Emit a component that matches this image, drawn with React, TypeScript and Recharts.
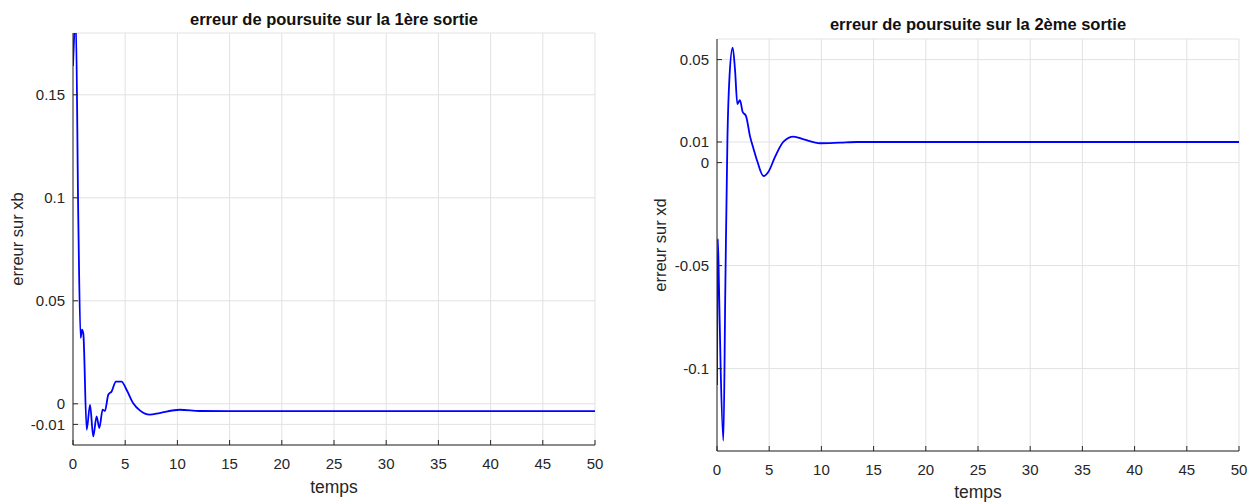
import React from "react";
import {
  LineChart,
  Line,
  XAxis,
  YAxis,
  CartesianGrid,
} from "recharts";

// temps values (s)
const tempsXb = [0, 0.15, 0.26, 0.51, 0.73, 0.86, 0.99, 1.31, 1.63, 1.94, 2.26, 2.52, 2.84, 3.06, 3.38, 3.7, 4.11, 4.65, 5.13, 5.77, 6.4, 7.36, 8.31, 10.23, 12.14, 15, 20, 30, 40, 50];
const erreurXb = [0.164, 0.182, 0.188, 0.089, 0.032, 0.036, 0.034, -0.0126, -0.0005, -0.0158, -0.0061, -0.0118, -0.0029, -0.0035, 0.0044, 0.006, 0.0108, 0.0108, 0.0068, 0.0003, -0.0032, -0.0053, -0.0045, -0.0029, -0.0035, -0.0036, -0.0036, -0.0036, -0.0036, -0.0036];

const tempsXd = [0, 0.08, 0.19, 0.35, 0.61, 0.8, 1.0, 1.2, 1.5, 1.73, 1.95, 2.2, 2.45, 2.78, 3.17, 3.49, 3.87, 4.45, 4.93, 5.57, 6.37, 7.33, 8.3, 9.88, 11.8, 13.4, 20, 30, 40, 50];
const erreurXd = [-0.108, -0.037, -0.06, -0.1, -0.135, -0.06, 0.012, 0.042, 0.0558, 0.0448, 0.0284, 0.0303, 0.0247, 0.0226, 0.0126, 0.0069, 0.0005, -0.0065, -0.0044, 0.0029, 0.0102, 0.0126, 0.0113, 0.0094, 0.0097, 0.01, 0.01, 0.01, 0.01, 0.01];

const xTicks = [0, 5, 10, 15, 20, 25, 30, 35, 40, 45, 50];
const yTicksXb = [-0.01, 0, 0.05, 0.1, 0.15];
const yTicksXd = [-0.1, -0.05, 0, 0.01, 0.05];

const dataXb = tempsXb.map((t, i) => ({ t, v: erreurXb[i] }));
const dataXd = tempsXd.map((t, i) => ({ t, v: erreurXd[i] }));

const AXIS = "#262626";
const FONT = "'Liberation Sans', Arial, sans-serif";
const tickStyle = { fill: AXIS, fontSize: 15, fontFamily: FONT };

const fmt = (v: number) => String(Number(v.toFixed(3)));

function Panel({
  data,
  yDomain,
  yTicks,
  margin,
  width,
}: {
  data: { t: number; v: number }[];
  yDomain: [number, number];
  yTicks: number[];
  margin: { top: number; right: number; bottom: number; left: number };
  width: number;
}) {
  return (
    <LineChart width={width} height={503} data={data} margin={margin}>
      <CartesianGrid stroke="#e2e2e2" strokeWidth={1} />
      <XAxis
        type="number"
        dataKey="t"
        domain={[0, 50]}
        ticks={xTicks}
        allowDataOverflow
        height={30}
        tickSize={-5}
        tickMargin={18}
        tick={tickStyle}
        stroke={AXIS}
        interval={0}
      />
      <XAxis
        xAxisId="top"
        orientation="top"
        type="number"
        dataKey="t"
        domain={[0, 50]}
        ticks={xTicks}
        allowDataOverflow
        height={0}
        tickSize={-5}
        tickFormatter={() => ""}
        stroke={AXIS}
        interval={0}
      />
      <YAxis
        type="number"
        domain={yDomain}
        ticks={yTicks}
        allowDataOverflow
        width={60}
        tickSize={-5}
        tickMargin={13}
        tick={tickStyle}
        tickFormatter={fmt}
        stroke={AXIS}
        interval={0}
      />
      <YAxis
        yAxisId="right"
        orientation="right"
        type="number"
        domain={yDomain}
        ticks={yTicks}
        allowDataOverflow
        width={0}
        tickSize={-5}
        tickFormatter={() => ""}
        stroke={AXIS}
        interval={0}
      />
      <Line
        type="monotone"
        dataKey="v"
        stroke="#0000ff"
        strokeWidth={1.8}
        dot={false}
        isAnimationActive={false}
      />
    </LineChart>
  );
}

const textBase: React.CSSProperties = {
  position: "absolute",
  fontFamily: FONT,
  color: AXIS,
  lineHeight: 1,
  whiteSpace: "nowrap",
};

function Txt({
  x,
  y,
  children,
  size,
  bold,
  rotate,
}: {
  x: number;
  y: number;
  children: React.ReactNode;
  size: number;
  bold?: boolean;
  rotate?: boolean;
}) {
  return (
    <div
      style={{
        ...textBase,
        left: x,
        top: y,
        fontSize: size,
        fontWeight: bold ? 700 : 400,
        color: bold ? "#111" : AXIS,
        transform: `translate(-50%, -50%)${rotate ? " rotate(-90deg)" : ""}`,
      }}
    >
      {children}
    </div>
  );
}

export default function App() {
  return (
    <div
      style={{
        position: "absolute",
        left: 0,
        top: 0,
        width: 1258,
        height: 503,
        background: "#fff",
        overflow: "hidden",
      }}
    >
      <div style={{ position: "absolute", left: 0, top: 0 }}>
        <Panel
          data={dataXb}
          yDomain={[-0.02, 0.18]}
          yTicks={yTicksXb}
          width={620}
          margin={{ top: 33, right: 25, bottom: 28, left: 13 }}
        />
      </div>
      <div style={{ position: "absolute", left: 630, top: 0 }}>
        <Panel
          data={dataXd}
          yDomain={[-0.14, 0.06]}
          yTicks={yTicksXd}
          width={628}
          margin={{ top: 39, right: 19, bottom: 22, left: 27 }}
        />
      </div>
      <Txt x={334} y={19} size={16.5} bold>
        erreur de poursuite sur la 1ère sortie
      </Txt>
      <Txt x={978} y={24} size={16.5} bold>
        erreur de poursuite sur la 2ème sortie
      </Txt>
      <Txt x={334} y={488} size={17.5}>
        temps
      </Txt>
      <Txt x={978} y={493} size={17.5}>
        temps
      </Txt>
      <Txt x={17} y={239} size={16.5} rotate>
        erreur sur xb
      </Txt>
      <Txt x={660} y={245} size={16.5} rotate>
        erreur sur xd
      </Txt>
    </div>
  );
}
